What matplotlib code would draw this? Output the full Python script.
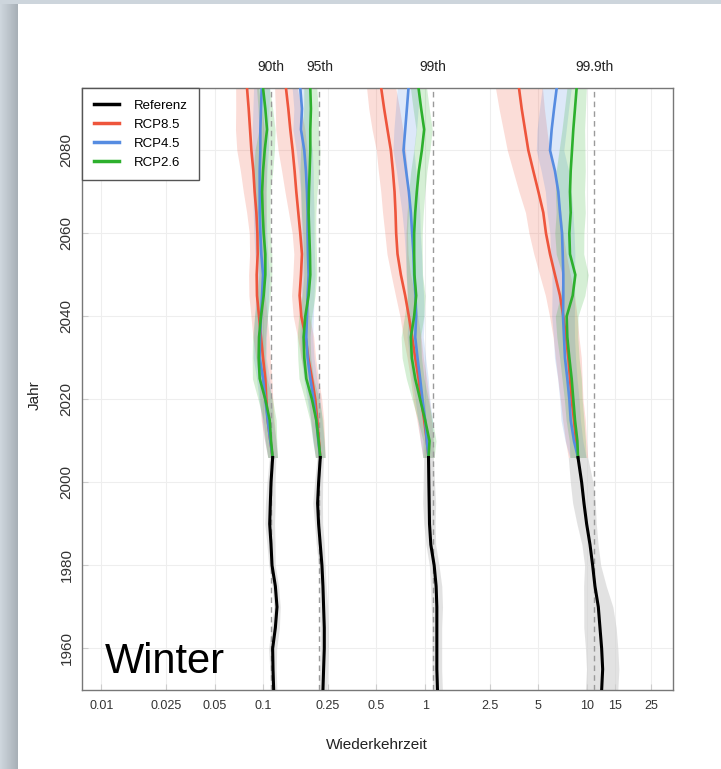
import matplotlib.pyplot as plt
import numpy as np
from matplotlib.patches import Rectangle
from matplotlib.lines import Line2D
from matplotlib.colors import LinearSegmentedColormap

FONT = ['Liberation Sans', 'DejaVu Sans']

# Referenzzeitraum
ref_years = [1950, 1955, 1960, 1965, 1970, 1975, 1980, 1985, 1990, 1995, 2000, 2006]
ref_90 = [0.1159, 0.1148, 0.1142, 0.1187, 0.1215, 0.1187, 0.1132, 0.1116, 0.1095, 0.1105, 0.1116, 0.1142]
ref_95 = [0.2336, 0.2358, 0.2381, 0.2381, 0.2358, 0.2336, 0.2303, 0.2249, 0.2196, 0.2165, 0.2196, 0.2249]
ref_99 = [1.192, 1.181, 1.181, 1.181, 1.181, 1.169, 1.137, 1.084, 1.064, 1.059, 1.054, 1.049]
ref_999 = [12.32, 12.50, 12.32, 12.03, 11.75, 11.20, 10.84, 10.44, 9.95, 9.58, 9.27, 8.80]
ref_spread_90 = [0.02, 0.02, 0.025, 0.025, 0.02, 0.02, 0.02, 0.025, 0.03, 0.03, 0.025, 0.02]
ref_spread_95 = [0.025, 0.025, 0.025, 0.025, 0.025, 0.02, 0.02, 0.025, 0.025, 0.03, 0.025, 0.02]
ref_spread_99 = [0.03, 0.03, 0.03, 0.03, 0.035, 0.035, 0.03, 0.03, 0.035, 0.04, 0.035, 0.03]
ref_spread_999 = [0.1, 0.1, 0.1, 0.1, 0.09, 0.07, 0.05, 0.05, 0.06, 0.07, 0.07, 0.06]

# Szenarien
proj_years = [2095, 2090, 2085, 2080, 2075, 2070, 2065, 2060, 2055, 2050,
              2045, 2040, 2035, 2030, 2025, 2020, 2015, 2010, 2006]
rcp85_90 = [0.0793, 0.0812, 0.0828, 0.0844, 0.0868, 0.0884, 0.0906, 0.0919, 0.0923, 0.0910,
            0.0914, 0.0941, 0.0968, 0.0996, 0.1029, 0.1044, 0.1064, 0.1105, 0.1142]
rcp45_90 = [0.0977, 0.0968, 0.0959, 0.0959, 0.0950, 0.0950, 0.0950, 0.0959, 0.0972, 0.0996,
            0.0982, 0.0968, 0.0954, 0.0950, 0.0996, 0.1029, 0.1064, 0.1105, 0.1142]
rcp26_90 = [0.0996, 0.1029, 0.1054, 0.1020, 0.0996, 0.0982, 0.0991, 0.1005, 0.1029, 0.1029,
            0.1005, 0.0968, 0.0941, 0.0936, 0.0950, 0.1029, 0.1095, 0.1116, 0.1142]
rcp85_95 = [0.1380, 0.1427, 0.1468, 0.1518, 0.1561, 0.1599, 0.1645, 0.1692, 0.1733, 0.1709,
            0.1676, 0.1717, 0.1826, 0.1896, 0.1998, 0.2095, 0.2155, 0.2207, 0.2249]
rcp45_95 = [0.1692, 0.1733, 0.1709, 0.1791, 0.1834, 0.1861, 0.1878, 0.1878, 0.1887, 0.1905,
            0.1878, 0.1861, 0.1843, 0.1878, 0.1951, 0.2046, 0.2125, 0.2186, 0.2249]
rcp26_95 = [0.1951, 0.1969, 0.1951, 0.1951, 0.1933, 0.1914, 0.1905, 0.1923, 0.1942, 0.1951,
            0.1905, 0.1817, 0.1774, 0.1791, 0.1843, 0.1998, 0.2125, 0.2196, 0.2249]
rcp85_99 = [0.535, 0.558, 0.585, 0.614, 0.632, 0.647, 0.656, 0.662, 0.675, 0.708,
            0.753, 0.793, 0.831, 0.868, 0.910, 0.945, 0.986, 1.024, 1.049]
rcp45_99 = [0.789, 0.771, 0.753, 0.735, 0.763, 0.793, 0.816, 0.831, 0.847, 0.855,
            0.872, 0.880, 0.868, 0.897, 0.931, 0.963, 1.0, 1.024, 1.049]
rcp26_99 = [0.910, 0.945, 0.986, 0.954, 0.914, 0.888, 0.868, 0.855, 0.855, 0.859,
            0.880, 0.855, 0.816, 0.827, 0.868, 0.931, 1.0, 1.064, 1.049]
rcp85_999 = [3.80, 3.95, 4.14, 4.34, 4.66, 5.01, 5.37, 5.58, 5.91, 6.34,
             6.81, 7.14, 7.42, 7.67, 7.85, 8.04, 8.31, 8.55, 8.80]
rcp45_999 = [6.50, 6.26, 6.05, 5.91, 6.34, 6.65, 6.81, 7.01, 7.08, 7.14,
             7.14, 7.11, 7.21, 7.31, 7.56, 7.78, 7.93, 8.31, 8.80]
rcp26_999 = [8.63, 8.43, 8.23, 8.08, 7.93, 7.85, 7.93, 7.78, 7.85, 8.47,
             8.16, 7.49, 7.56, 7.78, 8.04, 8.23, 8.43, 8.72, 8.80]

# Streuung (log10-Halbbreite)
sp85_90 = [0.07, 0.08, 0.09, 0.09, 0.08, 0.07, 0.06, 0.05, 0.05, 0.05, 0.05, 0.05, 0.05, 0.045, 0.04, 0.04, 0.04, 0.035, 0.03]
sp45_90 = [0.05, 0.05, 0.05, 0.05, 0.045, 0.04, 0.04, 0.04, 0.04, 0.04, 0.04, 0.04, 0.04, 0.04, 0.04, 0.04, 0.035, 0.035, 0.03]
sp26_90 = [0.04, 0.045, 0.05, 0.06, 0.06, 0.05, 0.045, 0.04, 0.04, 0.04, 0.04, 0.04, 0.04, 0.04, 0.045, 0.045, 0.04, 0.035, 0.03]
sp85_95 = [0.07, 0.08, 0.09, 0.09, 0.08, 0.07, 0.06, 0.05, 0.05, 0.05, 0.05, 0.05, 0.05, 0.045, 0.04, 0.04, 0.04, 0.035, 0.03]
sp45_95 = [0.05, 0.05, 0.05, 0.05, 0.045, 0.04, 0.04, 0.04, 0.04, 0.04, 0.04, 0.04, 0.04, 0.04, 0.04, 0.04, 0.035, 0.035, 0.03]
sp26_95 = [0.04, 0.045, 0.05, 0.06, 0.06, 0.05, 0.045, 0.04, 0.04, 0.04, 0.04, 0.04, 0.04, 0.04, 0.045, 0.045, 0.04, 0.035, 0.03]
sp85_99 = [0.09, 0.095, 0.095, 0.09, 0.09, 0.085, 0.08, 0.07, 0.065, 0.06, 0.06, 0.055, 0.055, 0.05, 0.05, 0.05, 0.045, 0.04, 0.035]
sp45_99 = [0.07, 0.07, 0.07, 0.065, 0.06, 0.06, 0.055, 0.05, 0.05, 0.05, 0.05, 0.05, 0.05, 0.05, 0.05, 0.045, 0.045, 0.04, 0.035]
sp26_99 = [0.05, 0.05, 0.05, 0.05, 0.05, 0.05, 0.05, 0.05, 0.05, 0.05, 0.055, 0.06, 0.06, 0.06, 0.055, 0.05, 0.045, 0.04, 0.035]
sp85_999 = [0.145, 0.14, 0.135, 0.13, 0.125, 0.12, 0.11, 0.105, 0.1, 0.095, 0.09, 0.085, 0.08, 0.08, 0.075, 0.07, 0.07, 0.065, 0.06]
sp45_999 = [0.09, 0.09, 0.09, 0.085, 0.085, 0.08, 0.08, 0.075, 0.075, 0.07, 0.07, 0.07, 0.065, 0.065, 0.06, 0.06, 0.06, 0.055, 0.05]
sp26_999 = [0.06, 0.065, 0.07, 0.08, 0.09, 0.09, 0.09, 0.09, 0.085, 0.08, 0.075, 0.07, 0.065, 0.06, 0.06, 0.055, 0.055, 0.05, 0.05]

perc_labels = ['90th', '95th', '99th', '99.9th']
perc_levels = [0.1111, 0.2222, 1.111, 11.11]

xticks = [0.01, 0.025, 0.05, 0.1, 0.25, 0.5, 1, 2.5, 5, 10, 15, 25]
xticklabels = ['0.01', '0.025', '0.05', '0.1', '0.25', '0.5', '1', '2.5', '5', '10', '15', '25']
yticks = [1960, 1980, 2000, 2020, 2040, 2060, 2080]

c_ref, c85, c45, c26 = 'black', '#EE553C', '#568CE1', '#2DB02D'

fig = plt.figure(figsize=(7.21, 7.69), dpi=100)
fig.patch.set_facecolor('#cdd5dc')
fig.add_artist(Rectangle((18/721, 0), 1, 1 - 4/769, transform=fig.transFigure,
                         facecolor='white', edgecolor='none', zorder=0))
gax = fig.add_axes([0, 0, 18/721, 1 - 4/769])
gax.imshow(np.linspace(0, 1, 40).reshape(1, -1), aspect='auto',
           cmap=LinearSegmentedColormap.from_list('g', ['#cfd7de', '#a8b0b7']))
gax.axis('off')

ax = fig.add_axes([82/721, 1 - 690/769, 591/721, 602/769])
ax.set_xscale('log')

def band(years, vals, spread, color, alpha):
    v = np.array(vals)
    s = 10 ** np.array(spread)
    ax.fill_betweenx(years, v / s, v * s, color=color, alpha=alpha, lw=0, zorder=2)

refs = [(ref_90, ref_spread_90), (ref_95, ref_spread_95), (ref_99, ref_spread_99), (ref_999, ref_spread_999)]
projs = [
    [(rcp85_90, sp85_90), (rcp45_90, sp45_90), (rcp26_90, sp26_90)],
    [(rcp85_95, sp85_95), (rcp45_95, sp45_95), (rcp26_95, sp26_95)],
    [(rcp85_99, sp85_99), (rcp45_99, sp45_99), (rcp26_99, sp26_99)],
    [(rcp85_999, sp85_999), (rcp45_999, sp45_999), (rcp26_999, sp26_999)],
]

for (rv, rs), group in zip(refs, projs):
    band(ref_years, rv, rs, '#d0d0d0', 0.6)
    for (pv, ps), col in zip(group, [c85, c45, c26]):
        band(proj_years, pv, ps, col, 0.2)

for lev in perc_levels:
    ax.axvline(lev, color='#9a9a9a', ls=(0, (4, 3)), lw=1, zorder=3)

for (rv, rs), group in zip(refs, projs):
    ax.plot(rv, ref_years, color=c_ref, lw=2.2, zorder=5)
    for (pv, ps), col in zip(group, [c85, c45, c26]):
        ax.plot(pv, proj_years, color=col, lw=1.9, zorder=4)

for lab, lev in zip(perc_labels, perc_levels):
    ax.text(lev, 1.035, lab, transform=ax.get_xaxis_transform(), ha='center', va='center',
            family=FONT, fontsize=10, color='#222222')

ax.set_xlim(0.00758, 34)
ax.set_ylim(1950, 2095)
ax.set_xticks(xticks)
ax.set_xticklabels(xticklabels)
ax.minorticks_off()
ax.set_yticks(yticks)
ax.grid(True, color='#eeeeee', lw=0.8, zorder=0)
ax.set_axisbelow(True)
ax.tick_params(axis='x', direction='in', length=4, color='#cccccc', pad=7, labelsize=9, labelcolor='#333333')
ax.tick_params(axis='y', direction='in', length=4, color='#cccccc', pad=6, labelsize=11, labelcolor='#333333')
for lab in ax.get_xticklabels():
    lab.set_family(FONT)
for lab in ax.get_yticklabels():
    lab.set_family(FONT)
    lab.set_rotation(90)
    lab.set_va('center')
for sp in ax.spines.values():
    sp.set_color('#777777')
    sp.set_linewidth(1)

handles = [Line2D([], [], color=c, lw=2.5) for c in [c_ref, c85, c45, c26]]
leg = ax.legend(handles, ['Referenz', 'RCP8.5', 'RCP4.5', 'RCP2.6'], loc='upper left',
                borderaxespad=0, fancybox=False, edgecolor='#555555', framealpha=1,
                prop=dict(family=FONT, size=9.5), handlelength=1.9, handletextpad=1.1,
                labelspacing=0.5, borderpad=0.9)
leg.get_frame().set_linewidth(1)
leg.set_zorder(10)

ax.text(105/721, 1 - 673/769, 'Winter', transform=fig.transFigure, family=FONT,
        fontsize=30, va='baseline', ha='left', zorder=11)

fig.text(377/721, 1 - 745/769, 'Wiederkehrzeit', ha='center', va='center',
         family=FONT, fontsize=11, color='#222222')
fig.text(35/721, 1 - 395/769, 'Jahr', ha='center', va='center', rotation=90,
         family=FONT, fontsize=11, color='#222222')

fig.savefig('out.png', dpi=100, facecolor=fig.get_facecolor())
